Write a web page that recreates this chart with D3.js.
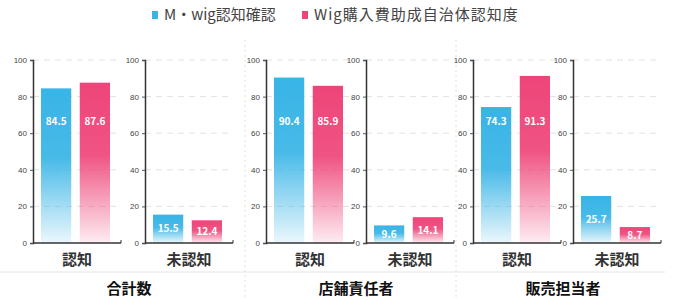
<!DOCTYPE html>
<html lang="ja">
<head>
    <meta charset="UTF-8">
    <title>Wig 認知度</title>
    <script src="https://d3js.org/d3.v7.min.js"></script>
    <style>
        body { margin: 0; padding: 0; background: #fff; }
        svg { display: block; font-family: "Noto Sans CJK JP", "Noto Sans", sans-serif; }
    </style>
</head>
<body>
    <div id="chart"></div>

    <script>
        // data
        const groups = ["合計数", "店舗責任者", "販売担当者"];
        const categories = ["認知", "未認知"];
        const seriesNames = ["M・wig認知確認", "Wig購入費助成自治体認知度"];
        const mwigValues = [[84.5, 15.5], [90.4, 9.6], [74.3, 25.7]];
        const wigValues = [[87.6, 12.4], [85.9, 14.1], [91.3, 8.7]];
        const yTicks = [0, 20, 40, 60, 80, 100];

        const colors = ["#38b4e6", "#ee4579"];
        const width = 678, height = 300;

        // left x of each small chart's y axis
        const panelX = [33, 145, 266, 366, 473, 573];
        const panelW = 88;
        const labelLevel = 66.5; // where the white value labels sit on tall bars

        const svg = d3.select("#chart").append("svg")
            .attr("width", width)
            .attr("height", height);

        const defs = svg.append("defs");
        colors.forEach((c, i) => {
            const g = defs.append("linearGradient")
                .attr("id", "grad" + i)
                .attr("x1", 0).attr("y1", 0).attr("x2", 0).attr("y2", 1);
            g.append("stop").attr("offset", "0%").attr("stop-color", c).attr("stop-opacity", 1);
            g.append("stop").attr("offset", "45%").attr("stop-color", c).attr("stop-opacity", 0.92);
            g.append("stop").attr("offset", "100%").attr("stop-color", c).attr("stop-opacity", 0.1);
        });

        const y = d3.scaleLinear().domain([0, 100]).range([243, 60]);
        const x = d3.scaleBand().domain([0, 1]).range([8, 77]).paddingInner(0.22);

        // legend
        const legend = svg.append("g").attr("transform", "translate(152,15)");
        const legendX = [0, 150];
        seriesNames.forEach((name, i) => {
            const item = legend.append("g").attr("transform", `translate(${legendX[i]},0)`);
            item.append("rect").attr("x", 0).attr("y", -4).attr("width", 6).attr("height", 8)
                .attr("fill", colors[i]);
            item.append("text").attr("x", 12).attr("dy", "0.35em")
                .attr("font-size", 15).attr("fill", "#444")
                .attr("letter-spacing", i === 1 ? 1 : 0).text(name);
        });

        // faint separators
        svg.append("line").attr("x1", 0).attr("x2", 665).attr("y1", 272).attr("y2", 272)
            .attr("stroke", "#e4e4e4");
        [245, 456].forEach(sx => {
            svg.append("line").attr("x1", sx).attr("x2", sx).attr("y1", 40).attr("y2", 300)
                .attr("stroke", "#e0e0e0").attr("stroke-dasharray", "2,3");
        });

        groups.forEach((grp, gi) => {
            categories.forEach((cat, ci) => {
                const p = gi * 2 + ci;
                const panel = svg.append("g").attr("transform", `translate(${panelX[p]},0)`);
                const vals = [mwigValues[gi][ci], wigValues[gi][ci]];

                // grid lines
                panel.selectAll(".grid").data(yTicks.slice(1)).join("line")
                    .attr("x1", 0).attr("x2", panelW)
                    .attr("y1", d => y(d)).attr("y2", d => y(d))
                    .attr("stroke", "#e2e2e2").attr("stroke-dasharray", "6,5");

                // bars
                panel.selectAll(".bar").data(vals).join("rect")
                    .attr("x", (d, i) => x(i))
                    .attr("y", d => y(d))
                    .attr("width", x.bandwidth())
                    .attr("height", d => y(0) - y(d))
                    .attr("fill", (d, i) => `url(#grad${i})`);

                // value labels
                panel.selectAll(".val").data(vals).join("text")
                    .attr("x", (d, i) => x(i) + x.bandwidth() / 2)
                    .attr("y", d => y(d > 50 ? labelLevel : d / 2))
                    .attr("dy", "0.35em")
                    .attr("text-anchor", "middle")
                    .attr("font-size", 10).attr("font-weight", "bold")
                    .attr("fill", "#fff")
                    .text(d => d.toFixed(1));

                // axes
                const yAxis = panel.append("g")
                    .call(d3.axisLeft(y).tickValues(yTicks).tickSize(3));
                yAxis.select(".domain").attr("stroke", "#333").attr("stroke-width", 1.5);
                yAxis.selectAll("text").attr("font-size", 8).attr("fill", "#444");
                yAxis.selectAll(".tick line").attr("stroke", "#555");

                panel.append("line")
                    .attr("x1", 0).attr("x2", panelW)
                    .attr("y1", y(0)).attr("y2", y(0))
                    .attr("stroke", "#333").attr("stroke-width", 1.5);
                panel.append("line")
                    .attr("x1", panelW).attr("x2", panelW)
                    .attr("y1", y(0)).attr("y2", y(0) - 3)
                    .attr("stroke", "#333");

                // category label
                panel.append("text")
                    .attr("x", 44).attr("y", 260).attr("dy", "0.35em")
                    .attr("text-anchor", "middle")
                    .attr("font-size", 15).attr("font-weight", "bold")
                    .attr("fill", "#333").text(cat);
            });

            // group title
            const gx = (panelX[gi * 2] + panelX[gi * 2 + 1] + panelW) / 2 - 4;
            svg.append("text")
                .attr("x", gx).attr("y", 289).attr("dy", "0.35em")
                .attr("text-anchor", "middle")
                .attr("font-size", 15).attr("font-weight", "bold")
                .attr("fill", "#111").text(grp);
        });
    </script>
</body>
</html>
